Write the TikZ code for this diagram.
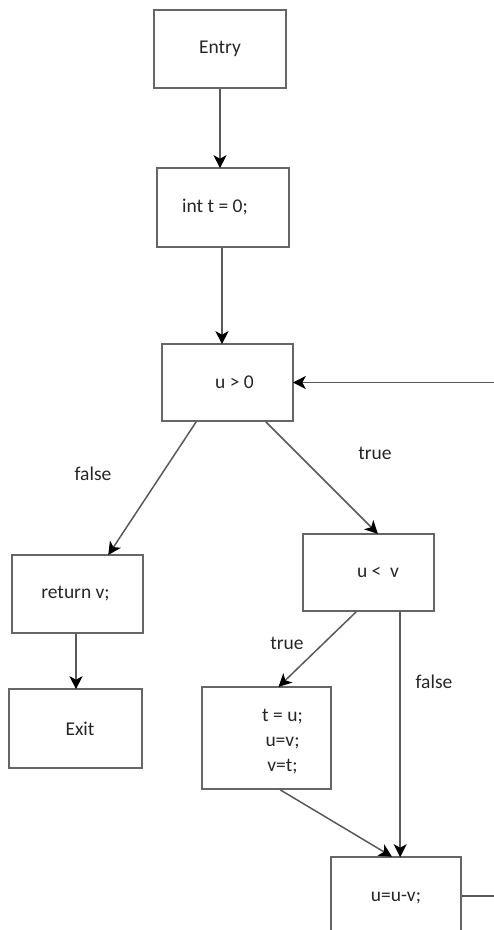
\documentclass[tikz,border=0pt]{standalone}
\usepackage{fontspec}
\setmainfont{Carlito}
\usetikzlibrary{arrows.meta,calc}
\begin{document}
\begin{tikzpicture}[x=1pt,y=-1pt,
  box/.style={draw=black!60,line width=1.6pt,rectangle,inner sep=0pt},
  txt/.style={font=\fontsize{19.5}{23}\selectfont,text=black!85,inner sep=0pt},
  arr/.style={draw=black!65,line width=1.5pt,-{Stealth[length=13pt,width=13pt,inset=3.5pt,color=black]},shorten >=-1pt},
  conn/.style={draw=black!65,line width=1.5pt}]
\useasboundingbox (0,0) rectangle (494,930);
\clip (0,0) rectangle (494,930);
\node[box,minimum width=132pt,minimum height=78pt] (entry) at (220,49) {};
\node[box,minimum width=132pt,minimum height=79pt] (init) at (223,207.5) {};
\node[box,minimum width=131pt,minimum height=77pt] (u0) at (227.5,382.5) {};
\node[box,minimum width=131pt,minimum height=77pt] (ulv) at (368.5,572.5) {};
\node[box,minimum width=131pt,minimum height=78pt] (ret) at (77.5,594) {};
\node[box,minimum width=133pt,minimum height=79pt] (exit) at (75.5,728.5) {};
\node[box,minimum width=129pt,minimum height=102pt] (swap) at (266.5,738) {};
\node[box,minimum width=130pt,minimum height=83pt] (sub) at (396,898.5) {};
\node[txt] (tentry) at (entry.center) {Entry};
\node[txt] (tinit) at ([xshift=-8pt]init.center) {int t = 0;};
\node[txt] (tu0) at ([xshift=7pt]u0.center) {u > 0};
\node[txt] (tulv) at ([xshift=9.5pt]ulv.center) {u <\ \ v};
\node[txt] (tret) at ([xshift=-2pt]ret.center) {return v;};
\node[txt] (texit) at ([xshift=4.5pt]exit.center) {Exit};
\node[txt,align=center] (tswap) at ([xshift=16pt,yshift=-4pt]swap.center) {t = u;\\[2pt]u=v;\\[2pt]v=t;};
\node[txt] (tsub) at (sub.center) {u=u-v;};
\node[txt] (lf1) at (93,474) {false};
\node[txt] (lt1) at (375,453) {true};
\node[txt] (lt2) at (287,643) {true};
\node[txt] (lf2) at (434,682) {false};
\coordinate (back) at (494,382.5);
\coordinate (out) at (494,896);
\draw[arr] (entry.south) -- (entry.south |- init.north);
\draw[arr] ([xshift=-1pt]init.south) -- ([xshift=-1pt]init.south |- u0.north);
\draw[arr] (back) -- (u0.east);
\draw[arr] ([xshift=35pt]u0.south west) -- ([xshift=-35pt]ret.north east);
\draw[arr] ([xshift=-28pt]u0.south east) -- ([xshift=75pt]ulv.north west);
\draw[arr] ([xshift=54pt]ulv.south west) -- ([xshift=78pt]swap.north west);
\draw[arr] ([xshift=98pt]ulv.south west) -- ([xshift=98pt]ulv.south west |- sub.north);
\draw[arr] ([xshift=79pt]swap.south west) -- ([xshift=61pt]sub.north west);
\draw[arr] ([xshift=-1.5pt]ret.south) -- ([xshift=-1.5pt]ret.south |- exit.north);
\draw[conn] (sub.east |- out) -- (out);
\end{tikzpicture}
\end{document}
